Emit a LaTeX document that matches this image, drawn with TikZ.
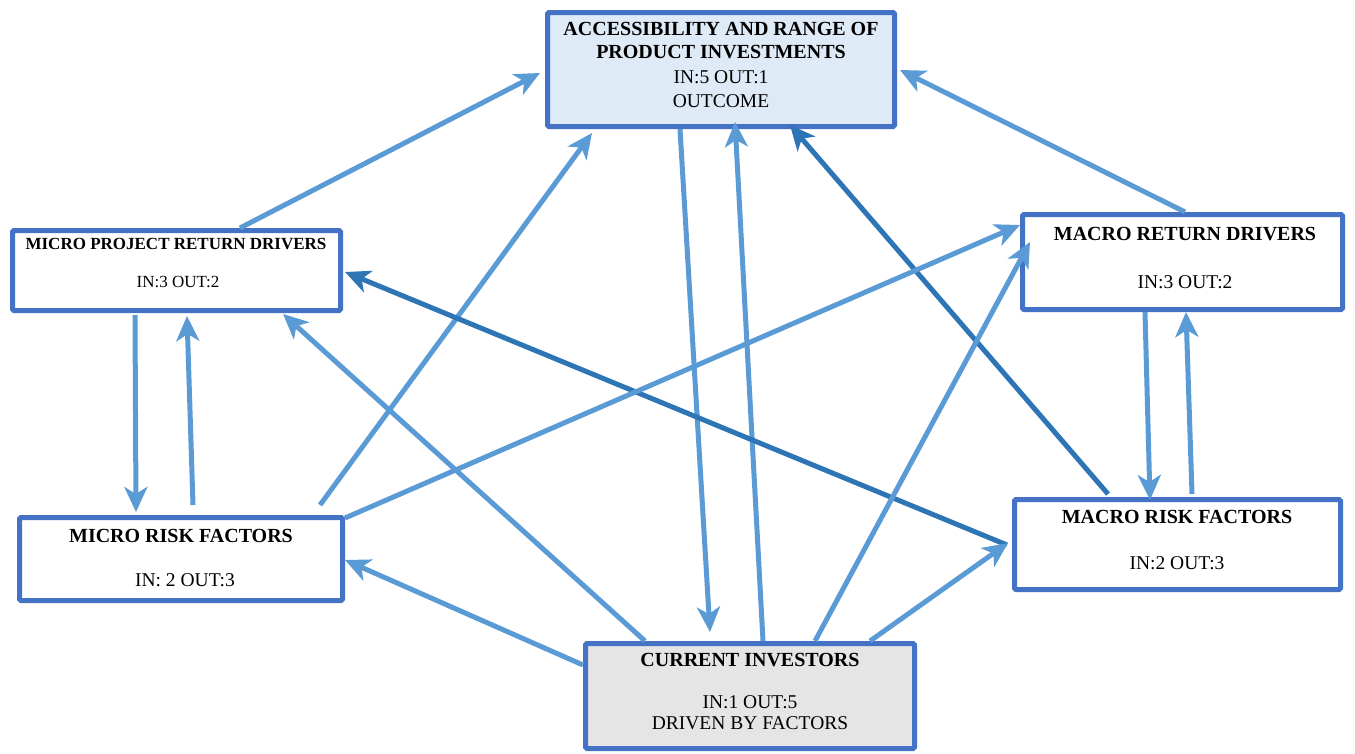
\documentclass[tikz,border=0pt]{standalone}
\usepackage{fontspec}
\setmainfont{Liberation Serif}
\usetikzlibrary{arrows.meta}
\definecolor{boxline}{HTML}{4472C4}
\definecolor{outfill}{HTML}{DEEAF6}
\definecolor{infill}{HTML}{E5E5E5}
\definecolor{lightarr}{HTML}{5B9BD5}
\definecolor{darkarr}{HTML}{2E75B6}
\tikzset{
  box/.style={draw=boxline, line width=5pt, rounded corners=1.5pt, inner sep=0pt, fill=white},
  ttltop/.style={font=\fontsize{20}{24}\selectfont\bfseries, align=center, inner sep=0pt},
  ttl/.style={font=\fontsize{20}{24}\selectfont\bfseries, align=center, inner sep=0pt},
  ttlsmall/.style={font=\fontsize{17}{20}\selectfont\bfseries, align=center, inner sep=0pt},
  txt/.style={font=\fontsize{19.5}{23}\selectfont, align=center, inner sep=0pt},
  txtsmall/.style={font=\fontsize{17}{20}\selectfont, align=center, inner sep=0pt},
  link/.style={line width=5pt, lightarr, -{Stealth[length=25pt,width=23pt,inset=7pt]}},
  linkdark/.style={link, darkarr},
}
\begin{document}
\begin{tikzpicture}[x=1pt,y=-1pt]
\useasboundingbox (0,0) rectangle (1355,753);

% boxes
\node[box, fill=outfill, minimum width=347pt, minimum height=114pt] (top) at (721,69.5) {};
\node[box, minimum width=328pt, minimum height=80pt] (mprd) at (176.5,270.5) {};
\node[box, minimum width=320pt, minimum height=95pt] (mard) at (1182.5,262) {};
\node[box, minimum width=323pt, minimum height=83pt] (mirf) at (181,559) {};
\node[box, minimum width=326pt, minimum height=90pt] (marf) at (1177.5,544.5) {};
\node[box, fill=infill, minimum width=329pt, minimum height=105pt] (ci) at (750,696) {};

% labels
\node[ttltop] (topa) at (721,29) {ACCESSIBILITY AND RANGE OF};
\node[ttltop] (topb) at (721,52) {PRODUCT INVESTMENTS};
\node[txt] (topc) at (721,77) {IN:5 OUT:1};
\node[txt] (topd) at (721,101) {OUTCOME};
\node[ttlsmall] (mprda) at (176,244) {MICRO PROJECT RETURN DRIVERS};
\node[txtsmall] (mprdb) at (178,282) {IN:3 OUT:2};
\node[ttl] (marda) at (1185,234) {MACRO RETURN DRIVERS};
\node[txt] (mardb) at (1185,282) {IN:3 OUT:2};
\node[ttl] (mirfa) at (181,536) {MICRO RISK FACTORS};
\node[txt] (mirfb) at (185,580) {IN: 2 OUT:3};
\node[ttl] (marfa) at (1177,517) {MACRO RISK FACTORS};
\node[txt] (marfb) at (1177,563) {IN:2 OUT:3};
\node[ttl] (cia) at (750,660) {CURRENT INVESTORS};
\node[txt] (cib) at (750,702) {IN:1 OUT:5};
\node[txt] (cic) at (750,723) {DRIVEN BY FACTORS};

% connectors
\draw[link] ([shift={(63.5,-42.5)}]mprd.center) -- ([shift={(-181,3.5)}]top.center);
\draw[link] ([shift={(139,-54)}]mirf.center) -- ([shift={(-129,63.5)}]top.center);
\draw[link] ([shift={(-41,59.5)}]top.center) -- ([shift={(-40,-64)}]ci.center);
\draw[link] ([shift={(13,-55)}]ci.center) -- ([shift={(14,52.5)}]top.center);
\draw[linkdark] ([shift={(-69.5,-50.5)}]marf.center) -- ([shift={(69,55.5)}]top.center);
\draw[link] ([shift={(2.5,-50)}]mard.center) -- ([shift={(179,0.5)}]top.center);
\draw[link] ([shift={(-41.5,44.5)}]mprd.center) -- ([shift={(-45,-47)}]mirf.center);
\draw[link] ([shift={(12,-54)}]mirf.center) -- ([shift={(10.5,45.5)}]mprd.center);
\draw[link] ([shift={(-105,-55)}]ci.center) -- ([shift={(106.5,43.5)}]mprd.center);
\draw[linkdark] ([shift={(-170.5,0.5)}]marf.center) -- ([shift={(168.5,1.5)}]mprd.center);
\draw[link] ([shift={(164,-41)}]mirf.center) -- ([shift={(-162.5,-37)}]mard.center);
\draw[link] ([shift={(65,-55)}]ci.center) -- ([shift={(-152.5,-20)}]mard.center);
\draw[link] ([shift={(-37.5,50)}]mard.center) -- ([shift={(-27.5,-44.5)}]marf.center);
\draw[link] ([shift={(14.5,-50.5)}]marf.center) -- ([shift={(3.5,50)}]mard.center);
\draw[link] ([shift={(-167,-31)}]ci.center) -- ([shift={(164,1)}]mirf.center);
\draw[link] ([shift={(120,-55)}]ci.center) -- ([shift={(-169.5,-1.5)}]marf.center);
\end{tikzpicture}
\end{document}
